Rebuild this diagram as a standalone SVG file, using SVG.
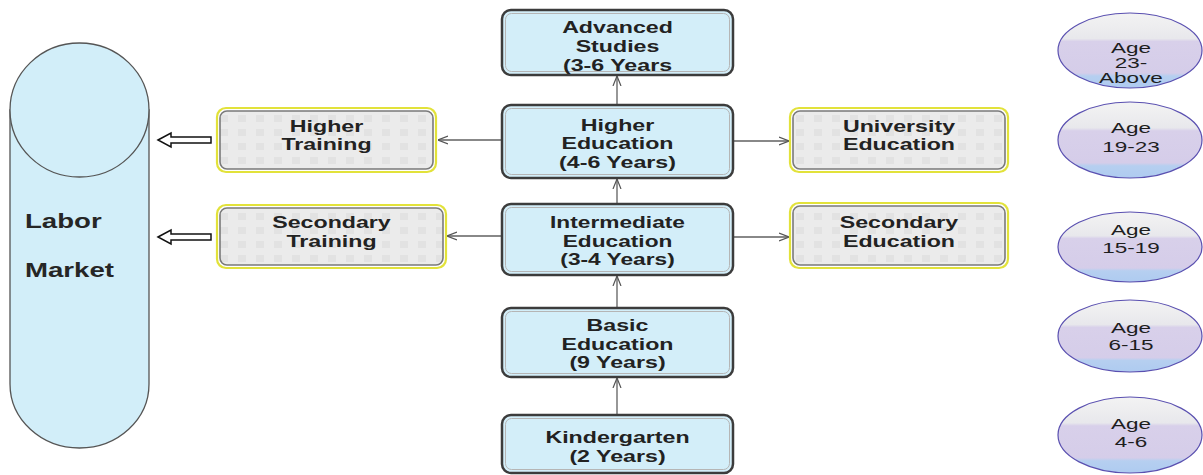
<svg xmlns="http://www.w3.org/2000/svg" width="1203" height="475" viewBox="0 0 1203 475">
<style>
.t{font-family:"Liberation Sans",Arial,sans-serif;font-weight:bold;font-size:16px;fill:#222;text-anchor:middle}
.lm{font-family:"Liberation Sans",Arial,sans-serif;font-weight:bold;font-size:20px;fill:#262626}
.age{font-family:"Liberation Sans",Arial,sans-serif;font-size:15px;fill:#1e1e1e;text-anchor:middle}
.cout{fill:#d3eef9;stroke:#3c3c3c;stroke-width:2.5}
.cin{fill:none;stroke:#b5b5b5;stroke-width:1}
.sout{fill:none;stroke:#e2e23a;stroke-width:2.2}
.sin{fill:url(#sq);stroke:#7a7a7a;stroke-width:1.6}
.ell{fill:url(#eg);stroke:#5a50b0;stroke-width:1.2}
.con{fill:none;stroke:#606060;stroke-width:1.3;marker-end:url(#ah)}
.blk{fill:#ffffff;stroke:#111;stroke-width:1.5}
</style>
<defs>
<linearGradient id="eg" x1="0" y1="0" x2="0" y2="1">
<stop offset="0" stop-color="#f3f3f3"/>
<stop offset="0.34" stop-color="#e8e8ec"/>
<stop offset="0.38" stop-color="#d8d0ea"/>
<stop offset="0.8" stop-color="#d5cde9"/>
<stop offset="0.84" stop-color="#b6cff0"/>
<stop offset="1" stop-color="#aecbf0"/>
</linearGradient>
<pattern id="sq" width="18" height="14" patternUnits="userSpaceOnUse">
<rect width="18" height="14" fill="#ebebeb"/>
<rect x="4" y="3" width="8" height="7" fill="#e2e2e2"/>
</pattern>
<marker id="ah" viewBox="0 0 10 10" refX="10" refY="5" markerWidth="10" markerHeight="10" markerUnits="userSpaceOnUse" orient="auto">
<path d="M0,1 L10,5 L0,9" fill="none" stroke="#555" stroke-width="1.2"/>
</marker>
</defs>
<rect width="1203" height="475" fill="#ffffff"/>

<g id="labor-market">
<path d="M10,110 L10,384 A69.5,64 0 0 0 149,384 L149,110 Z" fill="#d2eef9" stroke="#555" stroke-width="1.3"/>
<ellipse cx="79.5" cy="110" rx="69.5" ry="67" fill="#d2eef9" stroke="#555" stroke-width="1.3"/>
<text class="lm" transform="translate(25 0) scale(1.38 1)"><tspan x="0" y="228">Labor</tspan><tspan x="0" y="277">Market</tspan></text>
</g>

<g id="connectors">
<polygon class="blk" points="158,140 171,133 171,137 211,137 211,143 171,143 171,147"/>
<polygon class="blk" points="158,237 171,230 171,234 211,234 211,240 171,240 171,244"/>
<line class="con" x1="617" y1="105" x2="617" y2="76"/>
<line class="con" x1="617" y1="203" x2="617" y2="179"/>
<line class="con" x1="617" y1="308" x2="617" y2="276"/>
<line class="con" x1="617" y1="415" x2="617" y2="378"/>
<line class="con" x1="502" y1="140" x2="438" y2="140"/>
<line class="con" x1="502" y1="236" x2="447" y2="236"/>
<line class="con" x1="733" y1="141" x2="789" y2="141"/>
<line class="con" x1="733" y1="237" x2="789" y2="237"/>
</g>

<g id="advanced-studies">
<rect class="cout" x="502" y="10" width="231" height="65" rx="9"/>
<rect class="cin" x="505.5" y="13.5" width="224" height="58" rx="6"/>
<text class="t" transform="translate(617.5 0) scale(1.45 1)"><tspan x="0" y="33">Advanced</tspan><tspan x="0" y="52">Studies</tspan><tspan x="0" y="71">(3-6 Years</tspan></text>
</g>

<g id="higher-education">
<rect class="cout" x="502" y="105" width="231" height="73" rx="9"/>
<rect class="cin" x="505.5" y="108.5" width="224" height="66" rx="6"/>
<text class="t" transform="translate(617.5 0) scale(1.45 1)"><tspan x="0" y="131">Higher</tspan><tspan x="0" y="149.5">Education</tspan><tspan x="0" y="168">(4-6 Years)</tspan></text>
</g>

<g id="intermediate-education">
<rect class="cout" x="502" y="204" width="231" height="71" rx="9"/>
<rect class="cin" x="505.5" y="207.5" width="224" height="64" rx="6"/>
<text class="t" transform="translate(617.5 0) scale(1.42 1)"><tspan x="0" y="228">Intermediate</tspan><tspan x="0" y="247">Education</tspan><tspan x="0" y="265.5">(3-4 Years)</tspan></text>
</g>

<g id="basic-education">
<rect class="cout" x="502" y="308" width="231" height="69" rx="9"/>
<rect class="cin" x="505.5" y="311.5" width="224" height="62" rx="6"/>
<text class="t" transform="translate(617.5 0) scale(1.45 1)"><tspan x="0" y="331">Basic</tspan><tspan x="0" y="350">Education</tspan><tspan x="0" y="368.5">(9 Years)</tspan></text>
</g>

<g id="kindergarten">
<rect class="cout" x="502" y="415" width="231" height="58" rx="9"/>
<rect class="cin" x="505.5" y="418.5" width="224" height="51" rx="6"/>
<text class="t" transform="translate(617.5 0) scale(1.45 1)"><tspan x="0" y="443">Kindergarten</tspan><tspan x="0" y="462">(2 Years)</tspan></text>
</g>

<g id="higher-training">
<rect class="sout" x="217" y="108" width="219" height="64" rx="9"/>
<rect class="sin" x="220" y="111" width="213" height="58" rx="7"/>
<text class="t" transform="translate(326.5 0) scale(1.45 1)"><tspan x="0" y="132">Higher</tspan><tspan x="0" y="150">Training</tspan></text>
</g>

<g id="secondary-training">
<rect class="sout" x="217" y="205" width="229" height="63" rx="9"/>
<rect class="sin" x="220" y="208" width="223" height="57" rx="7"/>
<text class="t" transform="translate(331.5 0) scale(1.45 1)"><tspan x="0" y="228">Secondary</tspan><tspan x="0" y="247">Training</tspan></text>
</g>

<g id="university-education">
<rect class="sout" x="790" y="108" width="218" height="64" rx="9"/>
<rect class="sin" x="793" y="111" width="212" height="58" rx="7"/>
<text class="t" transform="translate(899 0) scale(1.45 1)"><tspan x="0" y="132">University</tspan><tspan x="0" y="150">Education</tspan></text>
</g>

<g id="secondary-education">
<rect class="sout" x="790" y="203" width="218" height="65" rx="9"/>
<rect class="sin" x="793" y="206" width="212" height="59" rx="7"/>
<text class="t" transform="translate(899 0) scale(1.45 1)"><tspan x="0" y="228">Secondary</tspan><tspan x="0" y="247">Education</tspan></text>
</g>

<g id="age-23-above">
<ellipse class="ell" cx="1130" cy="50.5" rx="72" ry="37.5"/>
<text class="age" transform="translate(1131 0) scale(1.5 1)"><tspan x="0" y="53">Age</tspan><tspan x="0" y="68">23-</tspan><tspan x="0" y="83">Above</tspan></text>
</g>

<g id="age-19-23">
<ellipse class="ell" cx="1130" cy="140" rx="72" ry="38"/>
<text class="age" transform="translate(1131 0) scale(1.5 1)"><tspan x="0" y="133">Age</tspan><tspan x="0" y="152">19-23</tspan></text>
</g>

<g id="age-15-19">
<ellipse class="ell" cx="1130" cy="247" rx="72" ry="35"/>
<text class="age" transform="translate(1131 0) scale(1.5 1)"><tspan x="0" y="235">Age</tspan><tspan x="0" y="253">15-19</tspan></text>
</g>

<g id="age-6-15">
<ellipse class="ell" cx="1130" cy="336" rx="72" ry="36"/>
<text class="age" transform="translate(1131 0) scale(1.5 1)"><tspan x="0" y="333">Age</tspan><tspan x="0" y="350">6-15</tspan></text>
</g>

<g id="age-4-6">
<ellipse class="ell" cx="1130" cy="435" rx="72" ry="38"/>
<text class="age" transform="translate(1131 0) scale(1.5 1)"><tspan x="0" y="429">Age</tspan><tspan x="0" y="447">4-6</tspan></text>
</g>
</svg>
